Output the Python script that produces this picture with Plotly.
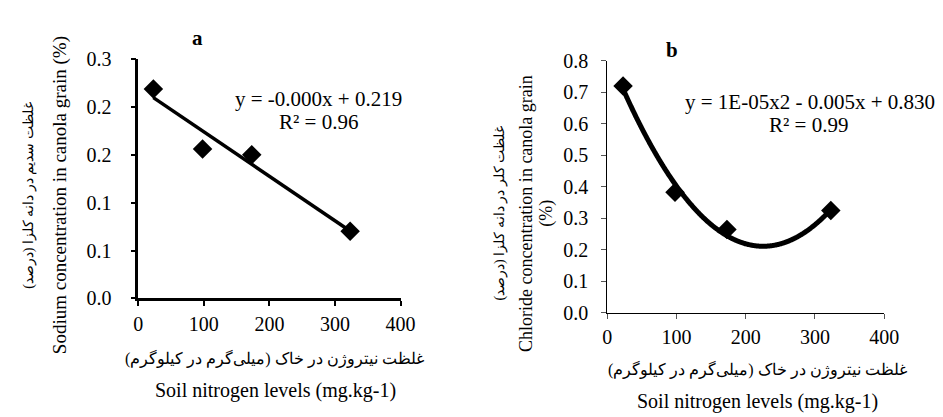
import numpy as np
import plotly.graph_objects as go

# ---- data ----
nitrogen_a = [23, 98, 173, 323]
sodium = [0.2185, 0.156, 0.150, 0.070]
nitrogen_b = [23, 98, 173, 323]
chloride = [0.720, 0.382, 0.264, 0.324]

yticks_a = [0, 0.05, 0.10, 0.15, 0.20, 0.25]
yticktext_a = ["0.0", "0.1", "0.1", "0.2", "0.2", "0.3"]
yticks_b = [0, 0.1, 0.2, 0.3, 0.4, 0.5, 0.6, 0.7, 0.8]
yticktext_b = ["0.0", "0.1", "0.2", "0.3", "0.4", "0.5", "0.6", "0.7", "0.8"]
xticks = [0, 100, 200, 300, 400]

eq_a = "y = -0.000x + 0.219"
r2_a = "R² = 0.96"
eq_b = "y = 1E-05x2 - 0.005x + 0.830"
r2_b = "R² = 0.99"

ytitle_a_en = "Sodium concentration in canola grain (%)"
ytitle_a_fa = "غلظت سدیم در دانه کلزا (درصد)"
ytitle_b_en = "Chloride concentration in canola grain"
ytitle_b_en2 = "(%)"
ytitle_b_fa = "غلظت کلر در دانه کلزا (درصد)"
xtitle_fa = "غلظت نیتروژن در خاک (میلی‌گرم در کیلوگرم)"
xtitle_en = "Soil nitrogen levels (mg.kg-1)"

W, H = 943, 417
SERIF = "Liberation Serif"
FA = "Liberation Serif"

# trendlines fitted from the data
ca = np.polyfit(nitrogen_a, sodium, 1)
xa = np.linspace(min(nitrogen_a), max(nitrogen_a), 50)
ya = np.polyval(ca, xa)
cb = np.polyfit(nitrogen_b, chloride, 2)
xb = np.linspace(min(nitrogen_b), max(nitrogen_b), 300)
yb = np.polyval(cb, xb)

fig = go.Figure()
fig.add_trace(go.Scatter(x=xa, y=ya, mode="lines", line=dict(color="black", width=3.5),
                         xaxis="x", yaxis="y", showlegend=False))
fig.add_trace(go.Scatter(x=nitrogen_a, y=sodium, mode="markers",
                         marker=dict(symbol="diamond", size=15, color="black"),
                         xaxis="x", yaxis="y", showlegend=False))
fig.add_trace(go.Scatter(x=xb, y=yb, mode="lines", line=dict(color="black", width=5, shape="spline"),
                         xaxis="x2", yaxis="y2", showlegend=False))
fig.add_trace(go.Scatter(x=nitrogen_b, y=chloride, mode="markers",
                         marker=dict(symbol="diamond", size=15, color="black"),
                         xaxis="x2", yaxis="y2", showlegend=False))

def px(x):
    return x / W

def py(y):
    return 1 - y / H

tickfont = dict(family=SERIF, size=20, color="black")

fig.update_layout(
    width=W, height=H,
    margin=dict(l=0, r=0, t=0, b=0),
    paper_bgcolor="white", plot_bgcolor="white",
    font=dict(family=SERIF, color="black"),
    xaxis=dict(domain=[px(128), px(396)], range=[0, 400], tickvals=xticks,
               showline=True, linecolor="black", linewidth=2.5, ticks="outside",
               ticklen=5, tickwidth=2, tickcolor="black", showgrid=False, zeroline=False,
               tickfont=tickfont, anchor="y", ticklabelstandoff=1),
    yaxis=dict(domain=[py(295), py(42)], range=[0, 0.25], tickvals=yticks_a,
               ticktext=yticktext_a,
               showline=True, linecolor="black", linewidth=2.5, ticks="outside",
               ticklen=5, tickwidth=2, tickcolor="black", showgrid=False, zeroline=False,
               tickfont=tickfont, anchor="x", ticklabelstandoff=15),
    xaxis2=dict(domain=[px(607), px(890)], range=[0, 400], tickvals=xticks,
                showline=True, linecolor="black", linewidth=1, ticks="outside",
                ticklen=5, tickwidth=1, tickcolor="#555", showgrid=False, zeroline=False,
                tickfont=tickfont, anchor="y2", ticklabelstandoff=1),
    yaxis2=dict(domain=[py(310), py(44)], range=[0, 0.8], tickvals=yticks_b,
                ticktext=yticktext_b,
                showline=True, linecolor="black", linewidth=1, ticks="outside",
                ticklen=5, tickwidth=1, tickcolor="#555", showgrid=False, zeroline=False,
                tickfont=tickfont, anchor="x2", ticklabelstandoff=9),
)

def ann(text, x, y, size, family=SERIF, angle=0, bold=False):
    if bold:
        text = "<b>" + text + "</b>"
    fig.add_annotation(text=text, x=px(x), y=py(y), xref="paper", yref="paper",
                       showarrow=False, textangle=angle, xanchor="center", yanchor="middle",
                       font=dict(family=family, size=size, color="black"))

# panel a
ann("a", 188, 20, 21, bold=True)
ann(eq_a, 312, 84, 21)
ann(r2_a, 312, 109, 21)
ann(ytitle_a_en, 48, 186, 19, angle=-90)
ann(ytitle_a_fa, 17, 186, 14, family=FA, angle=-90)
ann(xtitle_fa, 267, 358, 16, family=FA)
ann(xtitle_en, 268, 392, 20)

# panel b
ann("b", 673, 33, 21, bold=True)
ann(eq_b, 814, 88, 21)
ann(r2_b, 813, 112, 21)
ann(ytitle_b_en, 524, 205, 18, angle=-90)
ann(ytitle_b_en2, 545, 205, 18, angle=-90)
ann(ytitle_b_fa, 498, 205, 14, family=FA, angle=-90)
ann(xtitle_fa, 761, 370, 16, family=FA)
ann(xtitle_en, 761, 404, 20)

fig.write_html("out.html")
